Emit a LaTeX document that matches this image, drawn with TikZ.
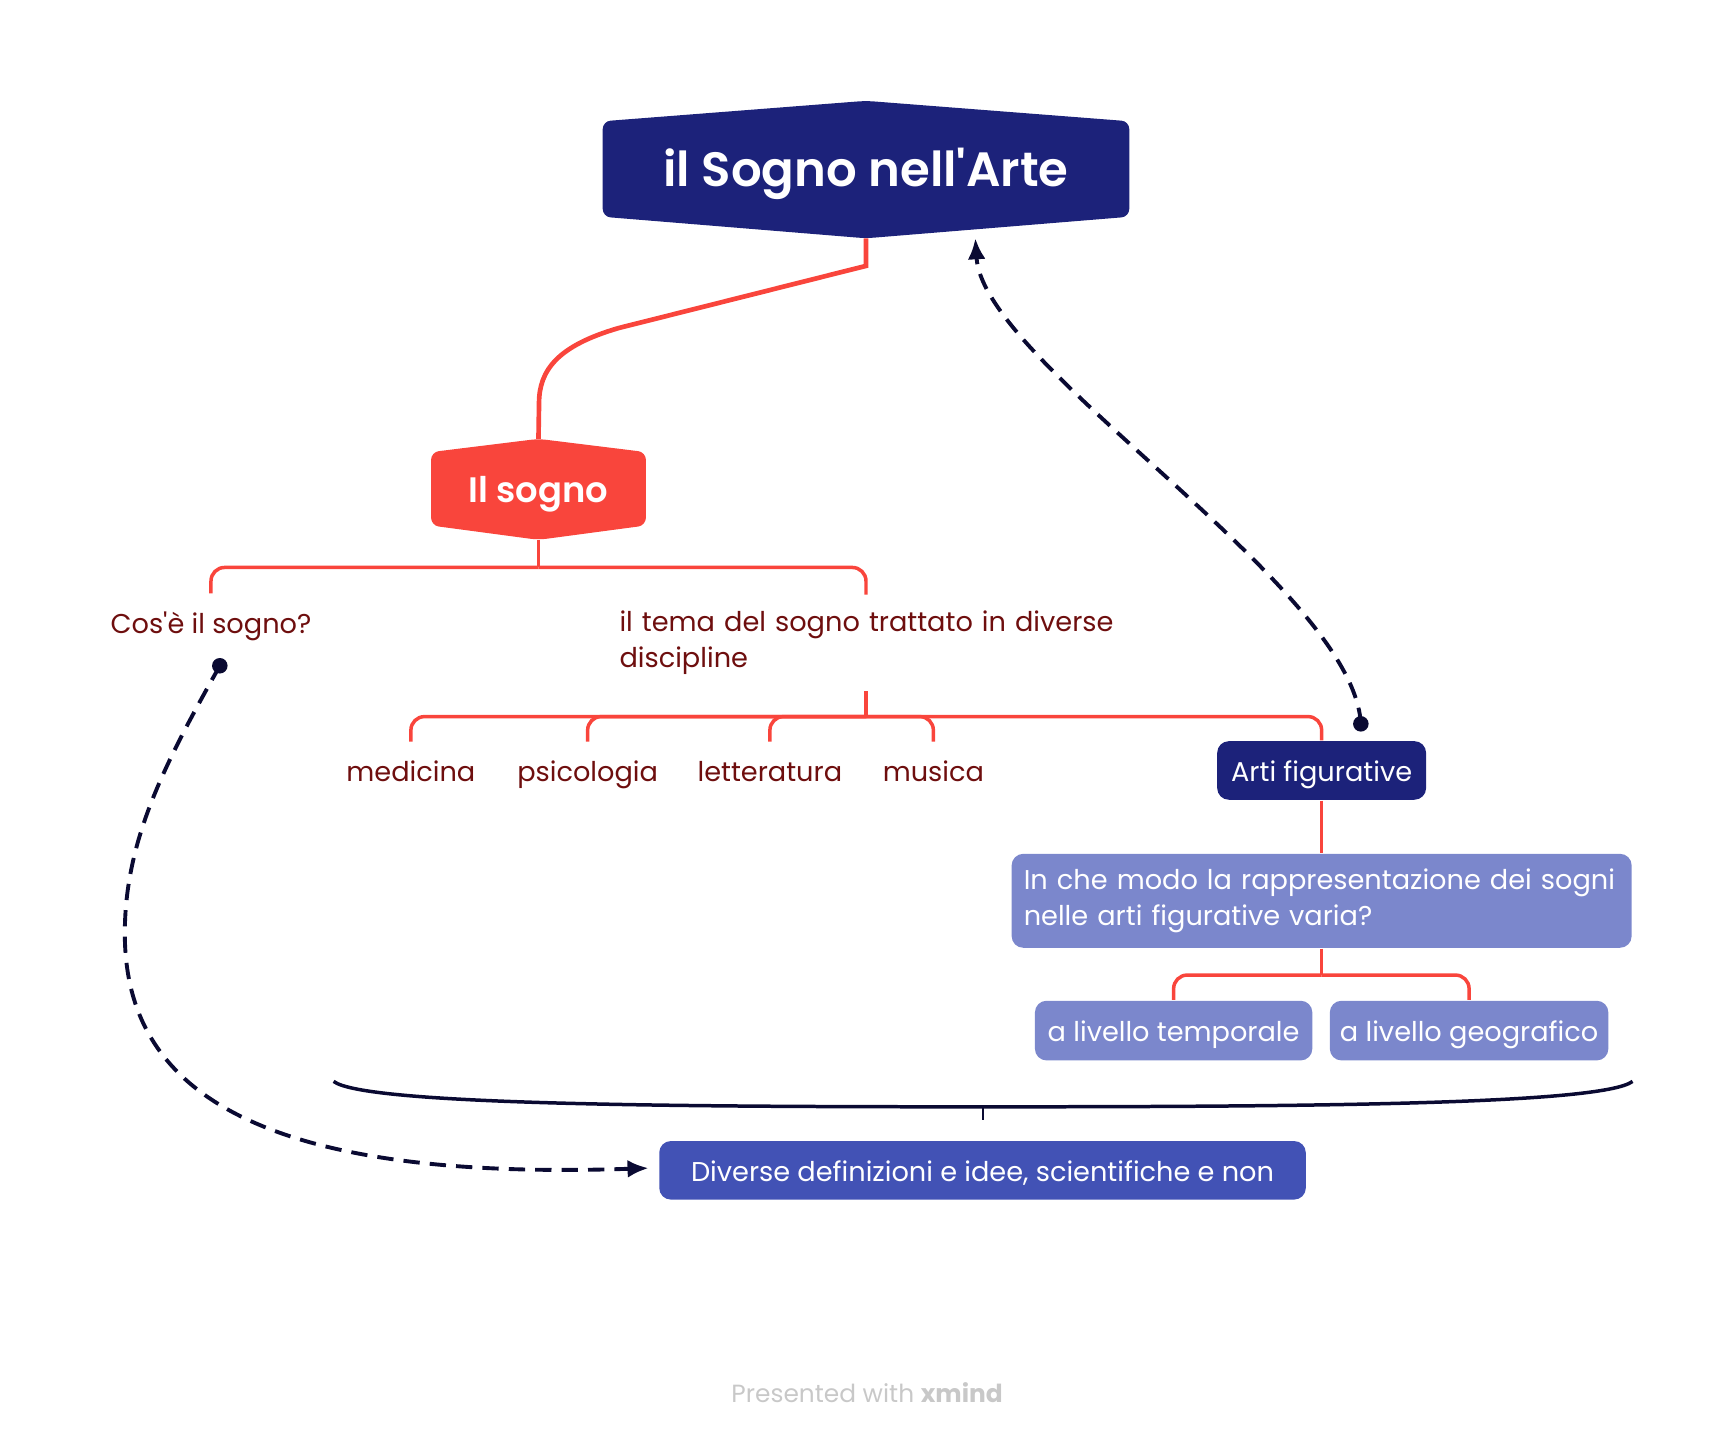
\documentclass[tikz,border=0pt]{standalone}
\usepackage{fontspec}
\setmainfont{Poppins}[Ligatures=TeXOff]
\IfFontExistsTF{Poppins SemiBold}{\newfontface\semibold{Poppins SemiBold}[Ligatures=TeXOff]}{\newcommand\semibold{\bfseries}}
\usetikzlibrary{arrows.meta,backgrounds}
\definecolor{navy}{RGB}{28,34,122}
\definecolor{redc}{RGB}{249,69,60}
\definecolor{maroon}{RGB}{110,14,14}
\definecolor{lilac}{RGB}{123,135,204}
\definecolor{blueb}{RGB}{66,82,181}
\definecolor{ink}{RGB}{10,10,50}
\definecolor{footgray}{RGB}{200,200,200}
\begin{document}
\begin{tikzpicture}[x=0.01cm, y=-0.01cm,
        trunk/.style={line width=1.2pt, draw=redc},
        branch/.style={line width=0.9pt, draw=redc, rounded corners=3.5pt},
        relation/.style={line width=1pt, draw=ink, dash pattern=on 4.2pt off 2.6pt, -{Latex[length=5.4pt,width=4.6pt]}},
        leaflabel/.style={text=maroon, font=\fontsize{7}{9.4}\selectfont, minimum height=0.52cm, inner sep=0pt, text height=5.4pt, text depth=0pt},
        topicbox/.style={rounded corners=3pt, text=white, font=\fontsize{7}{9.4}\selectfont, inner sep=0pt}]
    \useasboundingbox (0,0) rectangle (1568,1305);
    \node[font=\fontsize{12.4}{15}\selectfont\semibold, text=white, minimum width=4.75cm, minimum height=0.85cm, inner sep=0pt, text height=8.8pt, text depth=0pt] (root) at (784,153) {il Sogno nell'Arte};
    \node[font=\fontsize{9.1}{11}\selectfont\semibold, text=white, minimum width=1.93cm, minimum height=0.65cm, inner sep=0pt, text height=7pt, text depth=0pt] (sogno) at (487.5,442.5) {Il sogno};
    \coordinate (root-tip) at ([shift={(0,19.5)}]root.south);
    \coordinate (sogno-top) at ([shift={(0,-12)}]sogno.north);
    \coordinate (sogno-tip) at ([shift={(0,13)}]sogno.south);
    \begin{scope}[on background layer]
        \fill[navy, rounded corners=2pt] (root.north west) -- ([shift={(0,-18.5)}]root.north) -- (root.north east)
            -- (root.south east) -- (root-tip) -- (root.south west) -- cycle;
        \fill[redc, rounded corners=2pt] (sogno.north west) -- (sogno-top) -- (sogno.north east)
            -- (sogno.south east) -- (sogno-tip) -- (sogno.south west) -- cycle;
    \end{scope}
    \node[leaflabel] (cosa) at (191,564) {Cos'è il sogno?};
    \node[leaflabel, text width=4.46cm, align=left, minimum height=0.86cm, text height=, text depth=] (tema) at (784,582) {\mbox{il tema del sogno trattato in diverse}\\discipline};
    \foreach \name/\xpos in {medicina/372, psicologia/532, letteratura/697, musica/845}
        \node[leaflabel] (\name) at (\xpos,698) {\name};
    \node[topicbox, fill=navy, minimum width=1.89cm, minimum height=0.53cm, text height=5.6pt, text depth=0pt] (arti) at (1196.5,697.5) {Arti figurative};
    \node[topicbox, fill=lilac, text width=5.39cm, inner xsep=0.11cm, align=left, minimum height=0.85cm] (domanda) at (1196.5,815.5) {\mbox{In che modo la rappresentazione dei sogni}\\nelle arti figurative varia?};
    \node[topicbox, fill=lilac, minimum width=2.51cm, minimum height=0.54cm, text height=5.6pt, text depth=0pt] (temporale) at (1062.5,933) {a livello temporale};
    \node[topicbox, fill=lilac, minimum width=2.52cm, minimum height=0.54cm, text height=5.6pt, text depth=0pt] (geografico) at (1330,933) {a livello geografico};
    \node[topicbox, fill=blueb, minimum width=5.85cm, minimum height=0.53cm, text height=5.6pt, text depth=0pt] (diverse) at (889.5,1059.5) {Diverse definizioni e idee, scientifiche e non};
    \draw[trunk] (root-tip) -- ++(0,25) -- (560,297) .. controls (505,313) and (488,335) .. (488,365) -- (sogno-top);
    \draw[branch] (sogno-tip) -- ++(0,25) coordinate (bar-1);
    \foreach \name in {cosa, tema}
        \draw[branch] (bar-1) -| (\name.north);
    \draw[branch] (tema.south) -- ++(0,23) coordinate (bar-2);
    \foreach \name in {medicina, psicologia, letteratura, musica, arti}
        \draw[branch] (bar-2) -| (\name.north);
    \draw[branch] (arti.south) -- (domanda.north);
    \draw[branch] (domanda.south) -- ++(0,24) coordinate (bar-3);
    \foreach \name in {temporale, geografico}
        \draw[branch] (bar-3) -| (\name.north);
    \coordinate (brace-left) at (302,979);
    \coordinate (brace-right) at (1478,979);
    \coordinate (brace-mid) at (890,1002);
    \draw[ink, line width=0.9pt] (brace-left) .. controls (330,1000) and (600,1002) .. (brace-mid)
        .. controls (1180,1002) and (1450,1000) .. (brace-right);
    \draw[ink, line width=0.7pt] (brace-mid) -- ++(0,12);
    \coordinate (cosa-dot) at ([shift={(8,12)}]cosa.south);
    \coordinate (diverse-in) at ([shift={(-9,-2)}]diverse.west);
    \fill[ink] (cosa-dot) circle (2pt);
    \draw[relation] (cosa-dot) .. controls (150,690) and (113,760) .. (113,845)
        .. controls (113,980) and (220,1070) .. (diverse-in);
    \coordinate (arti-dot) at ([shift={(35.5,-15)}]arti.north);
    \coordinate (root-in) at ([shift={(99,0)}]root-tip);
    \fill[ink] (arti-dot) circle (2pt);
    \draw[relation] (arti-dot) .. controls (1225,530) and (890,330) .. (root-in);
    \node[text=footgray, font=\fontsize{6.4}{8}\selectfont] (footer) at (785,1261) {Presented with \textbf{xmind}};
\end{tikzpicture}
\end{document}
